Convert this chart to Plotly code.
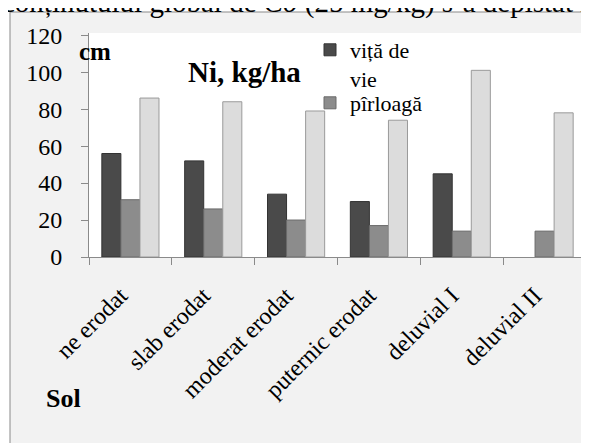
import plotly.graph_objects as go

categories = ["ne erodat", "slab erodat", "moderat erodat", "puternic erodat", "deluvial I", "deluvial II"]
vita_de_vie = [56, 52, 34, 30, 45, None]
pirloaga = [31, 26, 20, 17, 14, 14]
serie3 = [86, 84, 79, 74, 101, 78]
y_ticks = [0, 20, 40, 60, 80, 100, 120]

OFF = 8  # default page body margin
W, H = 589 - OFF, 443 - OFF
L, R, T, B = 81, 3, 25, 186
PW, PH = W - L - R, H - T - B


def px(x):
    """page x pixel -> paper fraction"""
    return (x - OFF - L) / PW


def py(y):
    """page y pixel -> paper fraction"""
    return (H - B - (y - OFF)) / PH


FONT = "Liberation Serif, Times New Roman, serif"

fig = go.Figure()
fig.add_trace(go.Bar(x=categories, y=vita_de_vie, name="viță de<br>vie", legend="legend",
                     marker=dict(color="#4a4a4a", line=dict(color="#333333", width=1))))
fig.add_trace(go.Bar(x=categories, y=pirloaga, name="pîrloagă", legend="legend2",
                     marker=dict(color="#8c8c8c", line=dict(color="#6a6a6a", width=1))))
fig.add_trace(go.Bar(x=categories, y=serie3, name="", showlegend=False,
                     marker=dict(color="#dcdcdc", line=dict(color="#9a9a9a", width=1))))

legend_style = dict(xanchor="left", yanchor="top", bgcolor="rgba(0,0,0,0)",
                    font=dict(size=22, family=FONT, color="black"), valign="top",
                    tracegroupgap=0)

fig.update_layout(
    width=W, height=H,
    margin=dict(l=L, r=R, t=T, b=B, pad=0, autoexpand=False),
    paper_bgcolor="white",
    plot_bgcolor="white",
    barmode="group",
    bargap=0.31,
    bargroupgap=0,
    font=dict(family=FONT, size=24, color="black"),
    legend=dict(x=px(310), y=py(29), **legend_style),
    legend2=dict(x=px(310), y=py(82), **legend_style),
    xaxis=dict(type="category", range=[-0.5, 5.5], showline=True, linecolor="#8a8a8a",
               ticks="outside", tickson="boundaries", ticklen=7, tickcolor="#8a8a8a",
               tickangle=-45, showgrid=False, automargin=False,
               tickfont=dict(size=24, family=FONT, color="black"),
               ticklabelstandoff=14, ticklabelshift=-10),
    yaxis=dict(range=[0, 121.2], tickvals=y_ticks, showline=True, linecolor="#8a8a8a",
               ticks="outside", ticklen=7, tickcolor="#8a8a8a", showgrid=False,
               zeroline=False, automargin=False,
               tickfont=dict(size=24, family=FONT, color="black"), ticklabelstandoff=14),
    shapes=[
        dict(type="rect", xref="paper", yref="paper", x0=px(10), x1=px(620),
             y0=py(470), y1=py(12), fillcolor="#f2f2f2",
             line=dict(color="#898989", width=1), layer="below"),
        dict(type="rect", xref="paper", yref="paper", x0=0, x1=1, y0=0, y1=1,
             fillcolor="white", line=dict(width=0), layer="below"),
    ],
    annotations=[
        dict(text="conținutului global de <i>Co</i> (25 mg/kg) s-a depistat în",
             xref="paper", yref="paper", x=px(0), y=py(21), xanchor="left", yanchor="bottom",
             showarrow=False, font=dict(size=29, family=FONT, color="black")),
        dict(text="<b>cm</b>", xref="paper", yref="paper", x=px(95), y=py(51),
             xanchor="center", yanchor="middle",
             showarrow=False, font=dict(size=25, family=FONT, color="black")),
        dict(text="<b>Ni, kg/ha</b>", xref="paper", yref="paper", x=px(244), y=py(72),
             xanchor="center", yanchor="middle",
             showarrow=False, font=dict(size=29, family=FONT, color="black")),
        dict(text="<b>Sol</b>", xref="paper", yref="paper", x=px(63), y=py(398),
             xanchor="center", yanchor="middle",
             showarrow=False, font=dict(size=26, family=FONT, color="black")),
    ],
)

fig.write_html("out.html")
